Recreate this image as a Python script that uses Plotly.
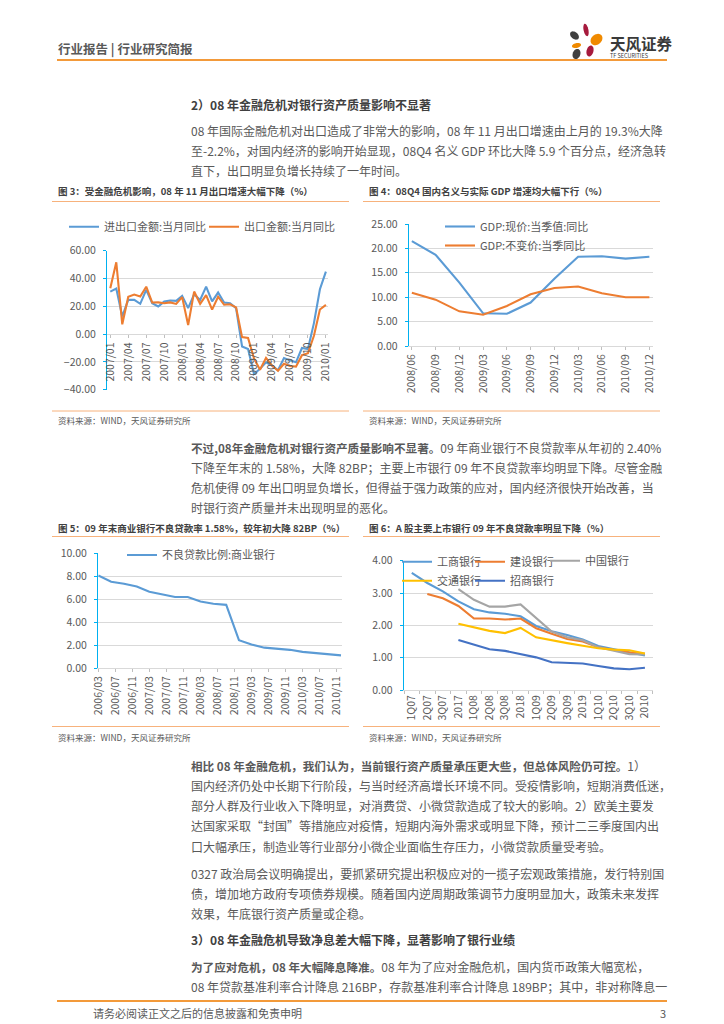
import numpy as np
import plotly.graph_objects as go

W, H = 724, 1024


def px(x):
    return x / W


def py(y):
    return 1 - y / H


# ---------------- data ----------------
# Chart 3: monthly yoy (%), 2007/01 - 2010/01
months3 = ["2007/01", "2007/02", "2007/03", "2007/04", "2007/05", "2007/06",
           "2007/07", "2007/08", "2007/09", "2007/10", "2007/11", "2007/12",
           "2008/01", "2008/02", "2008/03", "2008/04", "2008/05", "2008/06",
           "2008/07", "2008/08", "2008/09", "2008/10", "2008/11", "2008/12",
           "2009/01", "2009/02", "2009/03", "2009/04", "2009/05", "2009/06",
           "2009/07", "2009/08", "2009/09", "2009/10", "2009/11", "2009/12",
           "2010/01"]
ticks3 = ["2007/01", "2007/04", "2007/07", "2007/10", "2008/01", "2008/04",
          "2008/07", "2008/10", "2009/01", "2009/04", "2009/07", "2009/10",
          "2010/01"]
trade_yoy = [30.6, 32.8, 12.7, 24.6, 24.6, 21.8, 31.8, 22.2, 19.9, 23.4, 24.2, 23.9,
             27.5, 18.7, 28.7, 24.6, 34.2, 23.5, 29.9, 22.7, 22.2, 18.7, -8.9, -10.8,
             -28.8, -25.0, -20.3, -22.7, -26.0, -17.2, -18.9, -20.3, -10.0, -10.8, 7.9, 32.3,
             45.0]
export_yoy = [33.0, 51.7, 7.0, 26.9, 28.5, 27.1, 34.1, 22.7, 22.8, 22.2, 22.8, 21.7,
              26.6, 6.5, 30.6, 21.8, 28.1, 17.6, 26.9, 21.1, 21.5, 19.2, -2.2, -2.8,
              -17.5, -25.7, -17.1, -22.6, -26.4, -21.4, -23.0, -23.4, -15.2, -13.8, -1.2, 17.7,
              21.0]

# Chart 4: quarterly GDP yoy (%)
quarters4 = ["2008/06", "2008/09", "2008/12", "2009/03", "2009/06", "2009/09",
             "2009/12", "2010/03", "2010/06", "2010/09", "2010/12"]
gdp_nominal = [21.5, 18.7, 13.0, 6.7, 6.6, 8.9, 13.8, 18.3, 18.4, 17.9, 18.3]
gdp_real = [10.9, 9.5, 7.1, 6.4, 8.2, 10.6, 11.9, 12.2, 10.8, 10.0, 10.0]

# Chart 5: commercial bank NPL ratio (%), quarterly
dates5 = ["2006-03-01", "2006-06-01", "2006-09-01", "2006-12-01",
          "2007-03-01", "2007-06-01", "2007-09-01", "2007-12-01",
          "2008-03-01", "2008-06-01", "2008-09-01", "2008-12-01",
          "2009-03-01", "2009-06-01", "2009-09-01", "2009-12-01",
          "2010-03-01", "2010-06-01", "2010-09-01", "2010-12-01"]
npl_ratio = [8.05, 7.50, 7.33, 7.09, 6.63, 6.40, 6.17, 6.17, 5.78, 5.58, 5.49, 2.42,
             2.04, 1.77, 1.66, 1.58, 1.40, 1.30, 1.20, 1.10]

# Chart 6: listed banks NPL ratio (%)
cats6 = ["1Q07", "2Q07", "3Q07", "2017", "1Q08", "2Q08", "3Q08", "2018",
         "1Q09", "2Q09", "3Q09", "2019", "1Q10", "2Q10", "3Q10", "2010"]
icbc = [3.62, 3.31, 3.05, 2.74, 2.50, 2.40, 2.36, 2.28, 1.98, 1.82, 1.70, 1.56,
        1.36, 1.26, 1.17, 1.07]
ccb = [None, 2.97, 2.84, 2.60, 2.21, 2.21, 2.18, 2.21, 1.91, 1.74, 1.58, 1.50,
       1.32, 1.24, 1.16, 1.12]
boc = [None, None, None, 3.12, 2.79, 2.58, 2.58, 2.65, 2.24, 1.81, 1.63, 1.54,
       1.32, 1.22, 1.11, 1.10]
bocom = [None, None, None, 2.05, 1.95, 1.83, 1.76, 1.92, 1.63, 1.53, 1.45, 1.37,
         1.29, 1.25, 1.23, 1.13]
cmb = [None, None, None, 1.55, 1.41, 1.26, 1.21, 1.12, 1.01, 0.86, 0.83, 0.82,
       0.74, 0.67, 0.64, 0.69]

# ---------------- styles ----------------
FONT = "Noto Sans CJK SC"
TXT = "#595959"
DARK = "#404040"
GRID = "#D9D9D9"
AXB = "#00B0F0"
BLUE = "#5B9BD5"
ORANGE = "#ED7D31"
GRAY = "#A5A5A5"
YELLOW = "#FFC000"
DBLUE = "#4472C4"
RULE = "#F39A3A"
RULE_L = "#F7B27C"

fig = go.Figure()


def line(x, y, name, color, xa, ya, lg):
    fig.add_trace(go.Scatter(x=x, y=y, name=name, mode="lines",
                             line=dict(color=color, width=2.1),
                             xaxis=xa, yaxis=ya, legend=lg, showlegend=True,
                             connectgaps=False, hoverinfo="skip"))


line(months3, trade_yoy, "进出口金额:当月同比", BLUE, "x", "y", "legend")
line(months3, export_yoy, "出口金额:当月同比", ORANGE, "x", "y", "legend2")
line(quarters4, gdp_nominal, "GDP:现价:当季值:同比", BLUE, "x2", "y2", "legend3")
line(quarters4, gdp_real, "GDP:不变价:当季同比", ORANGE, "x2", "y2", "legend3")
line(dates5, npl_ratio, "不良贷款比例:商业银行", BLUE, "x3", "y3", "legend4")
line(cats6, icbc, "工商银行", BLUE, "x4", "y4", "legend5")
line(cats6, ccb, "建设银行", ORANGE, "x4", "y4", "legend6")
line(cats6, boc, "中国银行", GRAY, "x4", "y4", "legend7")
line(cats6, bocom, "交通银行", YELLOW, "x4", "y4", "legend5")
line(cats6, cmb, "招商银行", DBLUE, "x4", "y4", "legend6")

tickfont = dict(family=FONT, size=10.5, color=TXT)


def yax(y0, y1, rng, dtick, anchor):
    return dict(domain=[py(y1), py(y0)], range=rng, dtick=dtick, tick0=0,
                tickformat=".2f", showgrid=True, gridcolor=GRID, gridwidth=1,
                zeroline=False, showline=True, linecolor=AXB, linewidth=1.3,
                ticks="outside", ticklen=3, tickcolor=AXB, tickwidth=1,
                ticklabelstandoff=5, tickfont=tickfont, anchor=anchor,
                fixedrange=True)


def legend(x, y, yanchor="middle"):
    return dict(x=px(x), y=py(y), xanchor="left", yanchor=yanchor,
                orientation="v", bgcolor="rgba(0,0,0,0)", borderwidth=0,
                font=dict(family=FONT, size=11, color=TXT), itemwidth=30,
                itemclick=False, itemdoubleclick=False, tracegroupgap=0,
                visible=True)


layout = dict(
    width=W, height=H, autosize=False, showlegend=True,
    margin=dict(l=0, r=0, t=0, b=0, pad=0, autoexpand=False),
    paper_bgcolor="white", plot_bgcolor="white",
    font=dict(family=FONT, color=TXT),
    # chart 3
    xaxis=dict(domain=[px(107.3), px(328.3)], type="category",
               categoryorder="array", categoryarray=months3,
               range=[-0.5, 36.4], tickmode="array", tickvals=ticks3,
               ticktext=ticks3, tickangle=-90, ticks="outside", ticklen=3,
               tickcolor="#BFBFBF", showline=False, showgrid=False,
               zeroline=False, anchor="free", position=py(334.3),
               tickfont=tickfont, fixedrange=True),
    yaxis=yax(250.7, 389.7, [-40, 60], 20, "x"),
    # chart 4
    xaxis2=dict(domain=[px(409), px(652.7)], type="category",
                categoryorder="array", categoryarray=quarters4,
                range=[-0.12, 10.14], tickangle=-90, ticks="outside",
                ticklen=3, tickcolor="#BFBFBF", showline=True,
                linecolor=GRID, showgrid=False, zeroline=False,
                anchor="y2", tickfont=tickfont, fixedrange=True),
    yaxis2=yax(224, 346, [0, 25], 5, "x2"),
    # chart 5
    xaxis3=dict(domain=[px(98.3), px(341.7)], type="date",
                range=["2006-03-01", "2010-12-06"], tick0="2006-03-01",
                dtick="M4", tickformat="%Y/%m", tickangle=-90,
                ticks="outside", ticklen=3, tickcolor="#BFBFBF",
                showline=True, linecolor=GRID, showgrid=False,
                zeroline=False, anchor="y3", tickfont=tickfont,
                fixedrange=True),
    yaxis3=yax(553, 668, [0, 10], 2, "x3"),
    # chart 6
    xaxis4=dict(domain=[px(404), px(652.7)], type="category",
                categoryorder="array", categoryarray=cats6,
                range=[-0.5, 15.5], tickangle=-90, ticks="outside",
                tickson="boundaries", ticklen=3, tickcolor="#BFBFBF",
                showline=True, linecolor=GRID, showgrid=False,
                zeroline=False, anchor="y4", tickfont=tickfont,
                fixedrange=True),
    yaxis4=yax(560.7, 690, [0, 4], 1, "x4"),
    legend=legend(64, 226.7),
    legend2=legend(204, 226.7),
    legend3=legend(440, 236),
    legend4=legend(122, 555),
    legend5=legend(397, 571.2),
    legend6=legend(470, 571.2),
    legend7=legend(545, 560.7),
)
fig.update_layout(**layout)

# ---------------- page text ----------------
ann = []


def text(x, y, s, size, color=TXT, anchor="left", family=FONT):
    ann.append(dict(x=px(x), y=py(y), xref="paper", yref="paper", text=s,
                    showarrow=False, xanchor=anchor, yanchor="middle",
                    font=dict(family=family, size=size, color=color),
                    borderpad=0))


BODY = 12
LX = 190
B = '<span style="font-weight:bold;font-size:11.6px;">'

text(57, 48, "<b>行业报告 | 行业研究简报</b>", 12.5, TXT)
text(609, 43, "<b>天风证券</b>", 15.5, "#3A3A3A")
text(609, 56, "TF SECURITIES", 5.5, "#3A3A3A")

text(LX, 104, "<b>2）08 年金融危机对银行资产质量影响不显著</b>", BODY, DARK)
para1 = ["08 年国际金融危机对出口造成了非常大的影响，08 年 11 月出口增速由上月的 19.3%大降",
         "至-2.2%，对国内经济的影响开始显现，08Q4 名义 GDP 环比大降 5.9 个百分点，经济急转",
         "直下，出口明显负增长持续了一年时间。"]
for i, s in enumerate(para1):
    text(LX, 130 + 20 * i, s, BODY)

text(57, 191, "<b>图 3：受金融危机影响，08 年 11 月出口增速大幅下降（%）</b>", 9.5, DARK)
text(368, 191, "<b>图 4：08Q4 国内名义与实际 GDP 增速均大幅下行（%）</b>", 9.5, DARK)
text(57, 420, "资料来源：WIND，天风证券研究所", 8.5)
text(368, 420, "资料来源：WIND，天风证券研究所", 8.5)

para2 = [B + "不过,08年金融危机对银行资产质量影响不显著。</span>09 年商业银行不良贷款率从年初的 2.40%",
         "下降至年末的 1.58%，大降 82BP；主要上市银行 09 年不良贷款率均明显下降。尽管金融",
         "危机使得 09 年出口明显负增长，但得益于强力政策的应对，国内经济很快开始改善，当",
         "时银行资产质量并未出现明显的恶化。"]
for i, s in enumerate(para2):
    text(LX, 447 + 20 * i, s, BODY)

text(57, 527.7, "<b>图 5：09 年末商业银行不良贷款率 1.58%，较年初大降 82BP（%）</b>", 9.5, DARK)
text(368, 527.7, "<b>图 6：A 股主要上市银行 09 年不良贷款率明显下降（%）</b>", 9.5, DARK)
text(57, 736.5, "资料来源：WIND，天风证券研究所", 8.5)
text(368, 736.5, "资料来源：WIND，天风证券研究所", 8.5)

para3 = [B + "相比 08 年金融危机，我们认为，当前银行资产质量承压更大些，但总体风险仍可控。</span>1）",
         "国内经济仍处中长期下行阶段，与当时经济高增长环境不同。受疫情影响，短期消费低迷，",
         "部分人群及行业收入下降明显，对消费贷、小微贷款造成了较大的影响。2）欧美主要发",
         "达国家采取“封国”等措施应对疫情，短期内海外需求或明显下降，预计二三季度国内出",
         "口大幅承压，制造业等行业部分小微企业面临生存压力，小微贷款质量受考验。"]
for i, s in enumerate(para3):
    text(LX, 765 + 20.3 * i, s, BODY)

para4 = ["0327 政治局会议明确提出，要抓紧研究提出积极应对的一揽子宏观政策措施，发行特别国",
         "债，增加地方政府专项债券规模。随着国内逆周期政策调节力度明显加大，政策未来发挥",
         "效果，年底银行资产质量或企稳。"]
for i, s in enumerate(para4):
    text(LX, 873 + 20.3 * i, s, BODY)

text(LX, 939, "<b>3）08 年金融危机导致净息差大幅下降，显著影响了银行业绩</b>", BODY, DARK)

para5 = [B + "为了应对危机，08 年大幅降息降准。</span>08 年为了应对金融危机，国内货币政策大幅宽松，",
         "08 年贷款基准利率合计降息 216BP，存款基准利率合计降息 189BP；其中，非对称降息一"]
for i, s in enumerate(para5):
    text(LX, 966 + 20.3 * i, s, BODY)

text(92, 1013, "请务必阅读正文之后的信息披露和免责申明", 11)
text(667, 1013, "3", 11, anchor="right")

fig.update_layout(annotations=ann)

# ---------------- rules & logo ----------------
shapes = []


def hline(y, x0, x1, color, width):
    shapes.append(dict(type="line", xref="paper", yref="paper",
                       x0=px(x0), x1=px(x1), y0=py(y), y1=py(y),
                       line=dict(color=color, width=width)))


hline(60, 57, 667, RULE, 2)
hline(1001, 57, 667, RULE, 2)
for yy in (201.5, 411, 536.5, 726.5):
    hline(yy, 52, 349, RULE_L, 1)
    hline(yy, 363, 660, RULE_L, 1)


def petal(cx, cy, rx, ry, ang, color):
    t = np.linspace(0, 2 * np.pi, 36)
    a = np.deg2rad(ang)
    xs = cx + rx * np.cos(t) * np.cos(a) - ry * np.sin(t) * np.sin(a)
    ys = cy + rx * np.cos(t) * np.sin(a) + ry * np.sin(t) * np.cos(a)
    pts = [f"{px(x):.5f},{py(y):.5f}" for x, y in zip(xs, ys)]
    shapes.append(dict(type="path", xref="paper", yref="paper",
                       path="M" + " L".join(pts) + " Z",
                       fillcolor=color, line=dict(width=0)))


petal(574.5, 35.5, 5.0, 3.4, 40, "#404040")
petal(586, 30, 2.4, 6.3, -12, "#A61A3D")
petal(596.5, 39.5, 6.5, 5.0, -40, "#F08A00")
petal(576.5, 45.5, 4.6, 2.4, -12, "#F08A00")
petal(590, 51, 3.4, 5.6, 15, "#A61A3D")
petal(576.5, 54, 3.8, 5.2, 20, "#404040")

fig.update_layout(shapes=shapes)

fig.write_html(
    "out.html",
    config={"displayModeBar": False, "staticPlot": True},
    post_script="document.body.style.margin='0';document.body.style.overflow='hidden';",
)
